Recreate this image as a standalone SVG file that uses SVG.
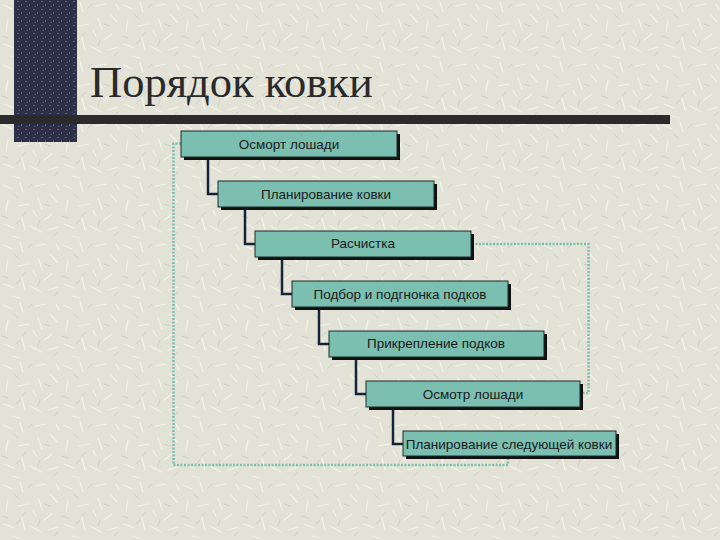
<svg xmlns="http://www.w3.org/2000/svg" width="720" height="540" viewBox="0 0 720 540">
<defs>
<pattern id="bgtex" width="60" height="60" patternUnits="userSpaceOnUse">
<rect width="60" height="60" fill="#e3e2d6"/>
<g stroke="#f4f3ea" stroke-width="1.2" stroke-linecap="round">
<path d="M3 5 L12 9 M20 2 L23 12 M35 6 L46 4 M50 14 L57 22 M8 20 L6 31 M18 26 L29 24 M38 18 L42 29 M52 34 L44 40 M4 44 L14 48 M22 38 L25 50 M30 46 L41 52 M48 50 L58 47 M12 56 L20 58 M33 30 L36 36 M56 4 L59 10"/>
</g>
<g stroke="#cfcec1" stroke-width="1" stroke-linecap="round">
<path d="M14 14 L18 18 M28 8 L32 4 M44 24 L50 26 M2 36 L8 38 M26 32 L22 36 M40 40 L38 46 M54 56 L58 52 M16 44 L20 40"/>
</g>
</pattern>
<pattern id="darktex" width="8" height="8" patternUnits="userSpaceOnUse">
<rect width="8" height="8" fill="#2d3046"/>
<rect x="1" y="1" width="2" height="1" fill="#5b6078"/>
<rect x="5" y="4" width="1" height="2" fill="#5b6078"/>
<rect x="2" y="6" width="2" height="1" fill="#4a4f66"/>
</pattern>
<style>
.box{fill:#7bbfb0;stroke:#1e2a2a;stroke-width:1}
.shadow{fill:#111}
.lbl{font-family:"Liberation Sans",Arial,sans-serif;font-size:13.5px;fill:#1a1a1a;text-anchor:middle}
.conn{fill:none;stroke:#14243a;stroke-width:2.5}
.dot{fill:none;stroke:#7dbfae;stroke-width:2.5;stroke-dasharray:2 1.5}
</style>
</defs>
<rect width="720" height="540" fill="url(#bgtex)"/>
<rect x="14" y="0" width="63" height="142" fill="url(#darktex)"/>
<rect x="0" y="115" width="670" height="9" fill="#2b2b2b"/>
<text x="90" y="97" font-family="'Liberation Serif','Times New Roman',serif" font-size="44.5" fill="#2a2a2a">Порядок ковки</text>

<g id="connectors">
<path class="dot" d="M181 143.5 H173.5 V465 H508 V458"/>
<path class="dot" d="M472 244 H588.5 V393 H582"/>
<path class="conn" d="M208 158 V194 H218"/>
<path class="conn" d="M245 208 V244 H255"/>
<path class="conn" d="M282 258 V294 H292"/>
<path class="conn" d="M319 308 V344 H329"/>
<path class="conn" d="M356 358 V394 H366"/>
<path class="conn" d="M393 408 V444 H403"/>
</g>

<g id="n1"><rect class="shadow" x="184" y="134" width="216" height="26"/><rect class="box" x="181" y="131" width="216" height="26"/><text class="lbl" x="289" y="148.5">Осморт лошади</text></g>
<g id="n2"><rect class="shadow" x="221" y="184" width="216" height="26"/><rect class="box" x="218" y="181" width="216" height="26"/><text class="lbl" x="326" y="198.5">Планирование ковки</text></g>
<g id="n3"><rect class="shadow" x="258" y="234" width="216" height="26"/><rect class="box" x="255" y="231" width="216" height="26"/><text class="lbl" x="363" y="247.5">Расчистка</text></g>
<g id="n4"><rect class="shadow" x="295" y="284" width="216" height="26"/><rect class="box" x="292" y="281" width="216" height="26"/><text class="lbl" x="400" y="298.5">Подбор и подгнонка подков</text></g>
<g id="n5"><rect class="shadow" x="332" y="334" width="215" height="26"/><rect class="box" x="329" y="331" width="215" height="26"/><text class="lbl" x="436" y="347.5">Прикрепление подков</text></g>
<g id="n6"><rect class="shadow" x="369" y="384" width="214" height="26"/><rect class="box" x="366" y="381" width="214" height="26"/><text class="lbl" x="473" y="398.5">Осмотр лошади</text></g>
<g id="n7"><rect class="shadow" x="406" y="434" width="213" height="25"/><rect class="box" x="403" y="431" width="213" height="25"/><text class="lbl" x="509" y="448.5">Планирование следующей ковки</text></g>
</svg>
